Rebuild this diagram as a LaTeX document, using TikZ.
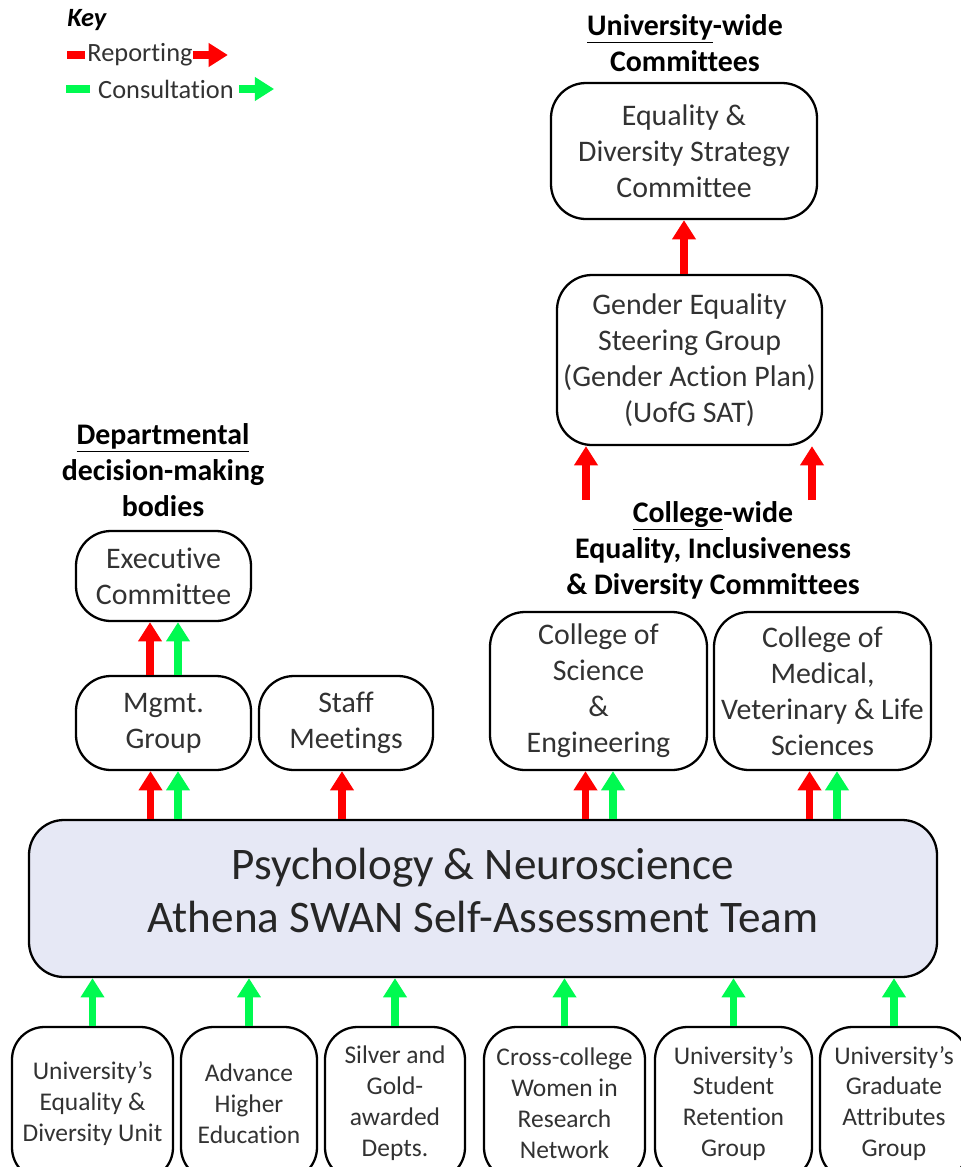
\documentclass[tikz,border=0pt]{standalone}
\usepackage{fontspec}
\setmainfont[Ligatures=NoCommon]{Carlito}
\usetikzlibrary{arrows.meta}
\definecolor{repred}{RGB}{255,0,0}
\definecolor{congreen}{RGB}{0,250,80}
\definecolor{teamfill}{RGB}{230,232,245}
\definecolor{boxtext}{RGB}{50,50,50}
\tikzset{
  unit/.style={draw, rounded corners=7mm, line width=1.3pt, align=center, inner sep=0pt,
    text=boxtext, font=\fontsize{17}{20.5}\selectfont},
  small unit/.style={unit, rounded corners=6.5mm, font=\fontsize{14.5}{17.6}\selectfont},
  heading/.style={align=center, font=\bfseries\fontsize{17}{20.5}\selectfont},
  keytext/.style={font=\fontsize{15}{18}\selectfont, text=boxtext, inner sep=0pt},
  report/.style={draw=repred, line width=4.5pt, -{Triangle[width=13pt,length=11pt]}},
  consult/.style={report, draw=congreen},
  keydash/.style={line width=4.5pt},
}
\begin{document}
\begin{tikzpicture}[x=0.2mm, y=-0.2mm]
                \useasboundingbox (0,0) rectangle (961,1167);
                \clip (0,0) rectangle (961,1167);
                % key
                \node[anchor=west, font=\bfseries\itshape\fontsize{15}{18}\selectfont, inner sep=0pt] (key) at (67,20) {Key};
                \node[keytext] (krep) at (140,55) {Reporting};
                \node[keytext] (kcon) at (166,89) {Consultation};
                \draw[keydash, repred] ([xshift=-0.4mm]krep.west) -- ++(-3.6mm,0);
                \draw[report] (krep.east) -- ++(7mm,0);
                \draw[keydash, congreen] ([xshift=-1.6mm]kcon.west) -- ++(-4.8mm,0);
                \draw[consult] ([xshift=1mm]kcon.east) -- ++(7mm,0);
                % headings
                \node[heading] (uhead) at (685,43) {\underline{University}-wide\\Committees};
                \node[heading] (dhead) at (163,470) {\underline{Departmental}\\decision-making\\bodies};
                \node[heading] (chead) at (713,550) {\underline{College}-wide\\Equality, Inclusiveness\\\& Diversity Committees};
                % university and college bodies
                \node[unit, minimum width=53.2mm, minimum height=27.2mm] (eds) at (684,151) {Equality \&\\Diversity Strategy\\Committee};
                \node[unit, minimum width=53mm, minimum height=34mm] (gesg) at (689.5,360) {Gender Equality\\Steering Group\\(Gender Action Plan)\\(UofG SAT)};
                \node[unit, minimum width=43.4mm, minimum height=31.6mm] (cse) at (598.5,691) {College of\\Science\\\&\\Engineering};
                \node[unit, minimum width=43.4mm, minimum height=31.6mm] (cmvls) at (822.5,691) {College of\\Medical,\\Veterinary \& Life\\Sciences};
                % departmental bodies
                \node[unit, minimum width=35mm, minimum height=18mm] (exec) at (163.5,576) {Executive\\Committee};
                \node[unit, minimum width=35mm, minimum height=18.8mm] (mgmt) at (163.5,723) {Mgmt.\\Group};
                \node[unit, minimum width=34.8mm, minimum height=18.8mm] (staff) at (346,723) {Staff\\Meetings};
                % self-assessment team
                \node[unit, fill=teamfill, minimum width=181.6mm, minimum height=31.4mm, text depth=9pt,
                  font=\fontsize{25.7}{30}\selectfont, text=black!85] (team) at (483,898.5)
                  {Psychology \& Neuroscience\\Athena SWAN Self-Assessment Team};
                % consulted groups
                \foreach \n/\x/\w/\t in {b1/92.5/32.2/{University's\\Equality \&\\Diversity Unit},
                    b2/249/27.2/{Advance\\Higher\\Education},
                    b3/395/28/{Silver and\\Gold-\\awarded\\Depts.},
                    b4/564.5/32.2/{Cross-college\\Women in\\Research\\Network},
                    b5/733.5/31.4/{University's\\Student\\Retention\\Group},
                    b6/894/29.6/{University's\\Graduate\\Attributes\\Group}}{
                    \node[small unit, minimum width=\w mm, minimum height=30.6mm] (\n) at (\x,1103.5) {\t};
                    \draw[consult] (\n.north) -- (\n.north |- team.south);
                }
                % arrows
                \coordinate (cwl) at (586,500);
                \coordinate (cwr) at (812,500);
                \draw[report] (gesg.north -| eds.south) -- (eds.south);
                \draw[report] (cwl) -- (cwl |- gesg.south);
                \draw[report] (cwr) -- (cwr |- gesg.south);
                \draw[report] ([xshift=-2.7mm]mgmt.north) -- ([xshift=-2.7mm]exec.south);
                \draw[consult] ([xshift=2.9mm]mgmt.north) -- ([xshift=2.9mm]exec.south);
                \foreach \b in {mgmt, cse, cmvls}{
                    \draw[report] ([xshift=-2.6mm]\b.south |- team.north) -- ([xshift=-2.6mm]\b.south);
                    \draw[consult] ([xshift=2.9mm]\b.south |- team.north) -- ([xshift=2.9mm]\b.south);
                }
                \draw[report] ([xshift=-0.8mm]staff.south |- team.north) -- ([xshift=-0.8mm]staff.south);
            \end{tikzpicture}
\end{document}
